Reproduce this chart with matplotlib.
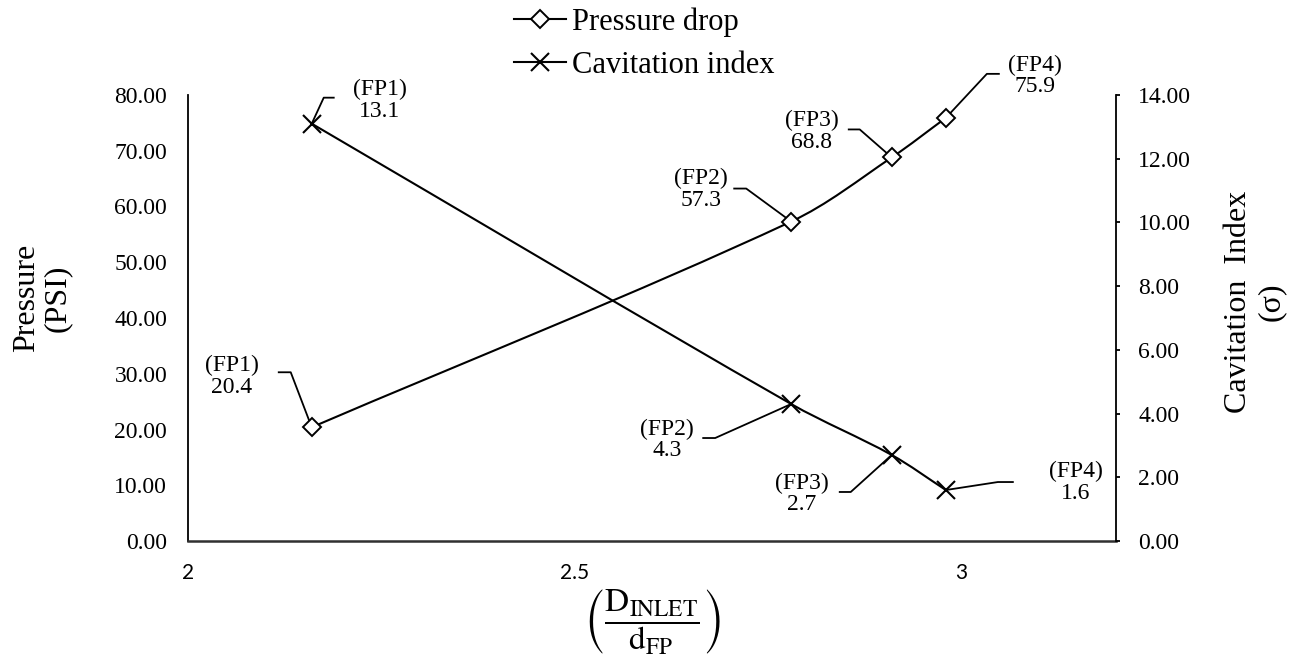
import numpy as np
import matplotlib
matplotlib.use('Agg')
import matplotlib.pyplot as plt
from matplotlib.path import Path
from matplotlib.patches import PathPatch
from matplotlib.lines import Line2D

# data
ratio = [2.16, 2.78, 2.91, 2.98]
pressure = [20.4, 57.3, 68.8, 75.9]
cavitation = [13.1, 4.3, 2.7, 1.6]
fp_names = ['(FP1)', '(FP2)', '(FP3)', '(FP4)']
x_ticks = [2, 2.5, 3]
p_ticks = [0, 10, 20, 30, 40, 50, 60, 70, 80]
c_ticks = [0, 2, 4, 6, 8, 10, 12, 14]

plt.rcParams['font.family'] = ['Liberation Serif', 'DejaVu Serif']
plt.rcParams['mathtext.fontset'] = 'stix'

# label placement in screen pixels relative to the marker (y down)
p_text_off = [(-80, -51), (-90, -32), (-80, -26), (89, -42)]
p_stubs = [[(-21, -55), (-33, -55)], [(-45, -33), (-57, -33)],
           [(-32, -28), (-43, -28)], [(41, -44), (53, -44)]]
c_text_off = [(68, -23), (-124, 36), (-90, 39), (130, -8)]
c_stubs = [[(12, -26), (22, -26)], [(-76, 34), (-88, 34)],
           [(-41, 37), (-52, 37)], [(52, -8), (67, -8)]]


def smooth_path(axis, xs, ys):
    # bezier through the points, tangents weighted by segment length (screen space)
    pts = axis.transData.transform(np.column_stack([xs, ys]))
    n = len(pts)
    seg = [np.hypot(*(pts[i + 1] - pts[i])) for i in range(n - 1)]
    tang = []
    for i in range(n):
        if i == 0:
            t = (pts[1] - pts[0]) / seg[0]
        elif i == n - 1:
            t = (pts[-1] - pts[-2]) / seg[-1]
        else:
            t = (pts[i + 1] - pts[i - 1]) / (seg[i - 1] + seg[i])
        tang.append(t)
    verts = [pts[0]]
    codes = [Path.MOVETO]
    for i in range(n - 1):
        d = seg[i]
        verts += [pts[i] + tang[i] * d / 3, pts[i + 1] - tang[i + 1] * d / 3, pts[i + 1]]
        codes += [Path.CURVE4] * 3
    verts = axis.transData.inverted().transform(np.array(verts))
    return Path(verts, codes)


def put_label(axis, x, y, text, text_off, stub):
    px, py = axis.transData.transform((x, y))
    pts = [(px, py)] + [(px + dx, py - dy) for dx, dy in stub]
    dpts = axis.transData.inverted().transform(pts)
    axis.plot(dpts[:, 0], dpts[:, 1], color='black', lw=1.3, zorder=2, clip_on=False)
    axis.annotate(text, (x, y), xytext=(text_off[0] * 0.72, -text_off[1] * 0.72),
                  textcoords='offset points', ha='center', va='center',
                  multialignment='center', fontsize=17, linespacing=1.05,
                  annotation_clip=False)


fig = plt.figure(figsize=(12.99, 6.63), dpi=100)
ax = fig.add_axes([188 / 1299, 1 - 541 / 663, (1116 - 188) / 1299, (541 - 95) / 663])
ax2 = ax.twinx()

ax.set_xlim(2, 3.2)
ax.set_ylim(0, 80)
ax2.set_ylim(0, 14)

ax.set_xticks(x_ticks)
ax.set_xticklabels(['2', '2.5', '3'], family='Lato', fontsize=15)
ax.set_yticks(p_ticks)
ax.set_yticklabels(['%.2f' % v for v in p_ticks], fontsize=17)
ax2.set_yticks(c_ticks)
ax2.set_yticklabels(['%.2f' % v for v in c_ticks], fontsize=17)

ax.tick_params(axis='x', length=0, pad=16)
ax.tick_params(axis='y', length=0, pad=15)
ax2.tick_params(axis='y', length=3, width=1.3, pad=13, direction='out')

for a in (ax, ax2):
    a.spines['top'].set_visible(False)
    for s in ('left', 'right', 'bottom'):
        a.spines[s].set_linewidth(1.3)
ax2.spines['bottom'].set_visible(False)
ax2.spines['left'].set_visible(False)
ax.spines['right'].set_visible(False)
ax.spines['bottom'].set_color('#303030')
ax.spines['bottom'].set_linewidth(1.8)

# smoothed lines like the spreadsheet chart
ax.add_patch(PathPatch(smooth_path(ax, ratio, pressure), fill=False, lw=1.5,
                       edgecolor='black', zorder=3))
ax2.add_patch(PathPatch(smooth_path(ax2, ratio, cavitation), fill=False, lw=1.5,
                        edgecolor='black', zorder=3))
ax.plot(ratio, pressure, linestyle='none', marker='D', ms=9, mfc='white',
        mec='black', mew=1.4, zorder=4)
ax2.plot(ratio, cavitation, linestyle='none', marker='x', ms=13,
         mec='black', mew=1.5, zorder=4)

for i in range(len(ratio)):
    put_label(ax, ratio[i], pressure[i], fp_names[i] + '\n' + str(pressure[i]),
              p_text_off[i], p_stubs[i])
    put_label(ax2, ratio[i], cavitation[i], fp_names[i] + '\n' + str(cavitation[i]),
              c_text_off[i], c_stubs[i])

fig.text(42 / 1299, 1 - 298 / 663, 'Pressure\n(PSI)', rotation=90, ha='center',
         va='center', fontsize=23, linespacing=1.1)
fig.text(1255 / 1299, 1 - 302 / 663, 'Cavitation  Index\n(σ)', rotation=90,
         ha='center', va='center', fontsize=23, linespacing=1.2)
fig.text(652 / 1299, 1 - 622 / 663,
         r'$\left(\dfrac{\mathrm{D}_{\mathrm{INLET}}}{\mathrm{d}_{\mathrm{FP}}}\right)$',
         ha='center', va='center', fontsize=24)

handles = [Line2D([], [], color='black', lw=1.5, marker='D', ms=9, mfc='white',
                  mec='black', mew=1.4),
           Line2D([], [], color='black', lw=1.5, marker='x', ms=13, mew=1.5)]
fig.legend(handles, ['Pressure drop', 'Cavitation index'], loc='upper center',
           bbox_to_anchor=(0.496, 1.03), frameon=False, fontsize=22,
           handlelength=1.7, handletextpad=0.2, labelspacing=0.45)

fig.savefig('out.png', dpi=100)
